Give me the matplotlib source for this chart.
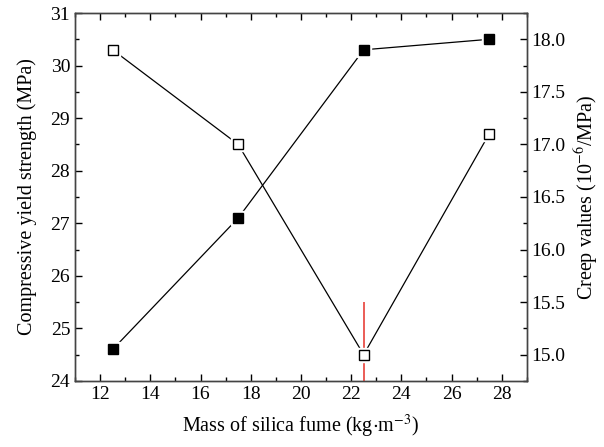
import matplotlib
matplotlib.use("Agg")
import matplotlib.pyplot as plt
from matplotlib.ticker import MultipleLocator

plt.rcParams['font.family'] = ['Liberation Serif', 'DejaVu Serif']
plt.rcParams['mathtext.fontset'] = 'stix'
plt.rcParams['font.size'] = 14.5

# data
silica = [12.5, 17.5, 22.5, 27.5]
strength = [24.6, 27.1, 30.3, 30.5]      # left axis, MPa
creep = [17.9, 17.0, 15.0, 17.1]         # right axis, 10^-6/MPa
red_x = 22.5
red_span = (24.0, 25.5)

fig = plt.figure(figsize=(6.04, 4.47), dpi=100)
ax = fig.add_axes([0.1242, 0.1477, 0.748, 0.8232])
ax2 = ax.twinx()

# lines with a small white gap round each marker
ax.plot(silica, strength, color='black', lw=0.9, zorder=2)
ax.plot(silica, strength, 's', ms=10, mfc='white', mec='white', zorder=3)
ax.plot(silica, strength, 's', ms=7, mfc='black', mec='black', zorder=4)

ax2.plot(silica, creep, color='black', lw=0.9, zorder=2)
ax2.plot(silica, creep, 's', ms=10, mfc='white', mec='white', zorder=3)
ax2.plot(silica, creep, 's', ms=7, mfc='white', mec='black', mew=1.0, zorder=4)

ax.vlines(red_x, red_span[0], red_span[1], color='#e8413a', lw=1.2, zorder=5)

ax.set_xlim(11, 29)
ax.set_ylim(24, 31)
ax2.set_ylim(14.75, 18.25)

ax.xaxis.set_major_locator(MultipleLocator(2))
ax.xaxis.set_minor_locator(MultipleLocator(1))
ax.yaxis.set_major_locator(MultipleLocator(1))
ax.yaxis.set_minor_locator(MultipleLocator(0.5))
ax2.yaxis.set_major_locator(MultipleLocator(0.5))
ax2.yaxis.set_minor_locator(MultipleLocator(0.25))
ax2.yaxis.set_major_formatter(plt.FormatStrFormatter('%.1f'))

ax.tick_params(axis='x', which='both', direction='in', top=True, bottom=True)
ax.tick_params(axis='y', which='both', direction='in', left=True, right=False)
ax.tick_params(which='major', length=5, width=1, labelsize=14)
ax.tick_params(which='minor', length=3, width=1)
ax2.tick_params(axis='y', which='both', direction='in')
ax2.tick_params(which='major', length=5, width=1, labelsize=14)
ax2.tick_params(which='minor', length=3, width=1)

for a in (ax, ax2):
    for s in a.spines.values():
        s.set_linewidth(1.0)
        s.set_color('#444444')

ax.set_xlabel('Mass of silica fume (kg$\\cdot$m$^{-3}$)', labelpad=7)
ax.set_ylabel('Compressive yield strength (MPa)', labelpad=10)
ax2.set_ylabel('Creep values (10$^{-6}$/MPa)', labelpad=5)

fig.savefig('out.png', dpi=100)
